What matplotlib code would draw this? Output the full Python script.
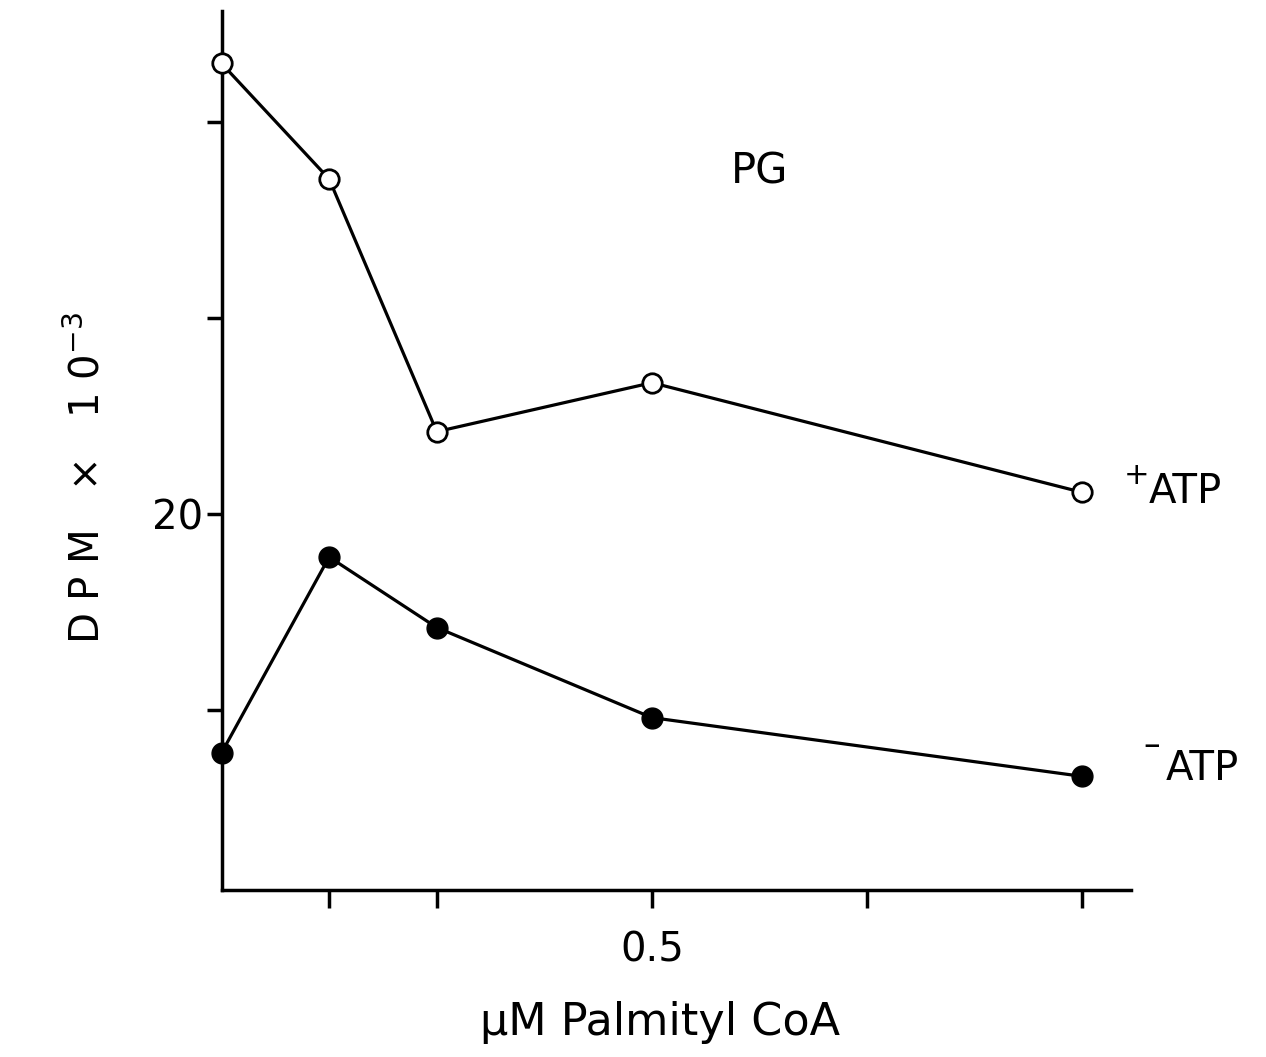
import matplotlib.pyplot as plt

# Palmityl CoA concentration (uM)
conc = [0.0, 0.125, 0.25, 0.5, 1.0]
# PG labelling, DPM x 10^-3
plus_atp = [43.0, 37.1, 24.2, 26.7, 21.1]
minus_atp = [7.8, 17.8, 14.2, 9.6, 6.6]

xticks = [0.125, 0.25, 0.5, 0.75, 1.0]
xticklabels = ["", "", "0.5", "", ""]
yticks = [10, 20, 30, 40]
yticklabels = ["", "20", "", ""]

fig = plt.figure(figsize=(12.66, 10.57), dpi=100)
ax = fig.add_axes([0.175, 0.158, 0.718, 0.832])

ax.plot(conc, plus_atp, color="black", lw=2.3, marker="o", ms=14,
        mfc="white", mec="black", mew=2, clip_on=False, zorder=3)
ax.plot(conc, minus_atp, color="black", lw=2.3, marker="o", ms=15,
        mfc="black", mec="black", clip_on=False, zorder=3)

ax.set_xlim(0, 1.056)
ax.set_ylim(0.8, 45.7)
ax.set_xticks(xticks)
ax.set_xticklabels(xticklabels)
ax.set_yticks(yticks)
ax.set_yticklabels(yticklabels)

for s in ["top", "right"]:
    ax.spines[s].set_visible(False)
for s in ["left", "bottom"]:
    ax.spines[s].set_linewidth(2.5)
ax.tick_params(axis="x", direction="out", length=13, width=2.5, labelsize=29, pad=16)
ax.tick_params(axis="y", direction="out", length=11, width=2.5, labelsize=29, pad=2)

ax.text(0.625, 37.5, "PG", fontsize=30, ha="center", va="center")

# series labels next to the last points
ax.annotate("ATP", xy=(conc[-1], plus_atp[-1]), xytext=(48, 0),
            textcoords="offset points", fontsize=29, va="center")
ax.annotate("+", xy=(conc[-1], plus_atp[-1]), xytext=(30, 12),
            textcoords="offset points", fontsize=22, va="center")
ax.annotate("ATP", xy=(conc[-1], minus_atp[-1]), xytext=(60, 5),
            textcoords="offset points", fontsize=29, va="center")
ax.annotate("\u2013", xy=(conc[-1], minus_atp[-1]), xytext=(44, 22),
            textcoords="offset points", fontsize=24, va="center")

fig.text(88 / 1266, 1 - 478 / 1057, "D P M   \u00d7   1 0$^{-3}$",
         rotation=90, fontsize=29, ha="center", va="center")
fig.text(660 / 1266, 1 - 1022 / 1057, "\u00b5M Palmityl CoA",
         fontsize=32, ha="center", va="center")

fig.savefig("out.png", dpi=100, facecolor="white")
